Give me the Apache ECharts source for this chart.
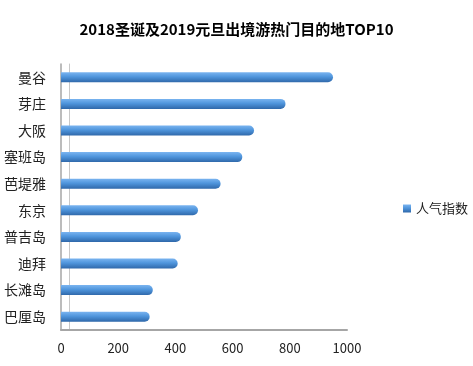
<!DOCTYPE html>
<html><head><meta charset="utf-8">
<script src="https://cdn.jsdelivr.net/npm/echarts@6/dist/echarts.min.js"></script>
<style>html,body{margin:0;padding:0;background:#fff}#c{width:473px;height:366px}</style>
</head><body><div id="c"></div>
<script>
const categories = ['曼谷','芽庄','大阪','塞班岛','芭堤雅','东京','普吉岛','迪拜','长滩岛','巴厘岛'];
const values = [951, 785, 675, 634, 558, 479, 419, 408, 321, 310];
const xTicks = [0, 200, 400, 600, 800, 1000];
const seriesName = '人气指数';
const titleText = '2018圣诞及2019元旦出境游热门目的地TOP10';

const font = '"Noto Sans CJK SC", "Microsoft YaHei", sans-serif';
const chart = echarts.init(document.getElementById('c'));
chart.setOption({
  animation: false,
  title: {text: titleText, left: 'center', top: 17,
    textStyle: {fontFamily: font, fontSize: 15, fontWeight: 'bold', color: '#000'}},
  legend: {data: [seriesName], left: 398, top: 197, orient: 'vertical',
    icon: 'rect', itemWidth: 8, itemHeight: 8, itemGap: 4,
    textStyle: {fontFamily: font, fontSize: 13, color: '#222'}},
  grid: {left: 61, right: 126, top: 64, bottom: 36},
  xAxis: {type: 'value', min: xTicks[0], max: xTicks[xTicks.length-1], interval: 200,
    axisLine: {show: true, lineStyle: {color: '#a6a6a6', width: 2}},
    axisTick: {show: false}, splitLine: {show: false},
    axisLabel: {fontFamily: font, fontSize: 13, color: '#222', margin: 12,
      formatter: v => String(v)}},
  yAxis: [{type: 'category', data: categories, inverse: true,
    axisLine: {show: true, lineStyle: {color: '#a6a6a6', width: 1.5}},
    axisTick: {show: false},
    axisLabel: {fontFamily: font, fontSize: 14, color: '#222', margin: 15}},
   {type: 'category', data: categories, inverse: true, position: 'left', offset: -8,
    axisLine: {show: true, lineStyle: {color: '#c8c8c8', width: 1}},
    axisTick: {show: false}, axisLabel: {show: false}}],
  series: [{name: seriesName, type: 'bar', data: values, barWidth: 10,
    itemStyle: {
      color: new echarts.graphic.LinearGradient(0,0,0,1,[
        {offset: 0, color: '#7ab4f0'},
        {offset: 0.45, color: '#4f95dc'},
        {offset: 1, color: '#2f68aa'}]),
      borderRadius: [0, 5, 5, 0]
    }}],
  color: ['#4f95dc']
});
</script></body></html>
